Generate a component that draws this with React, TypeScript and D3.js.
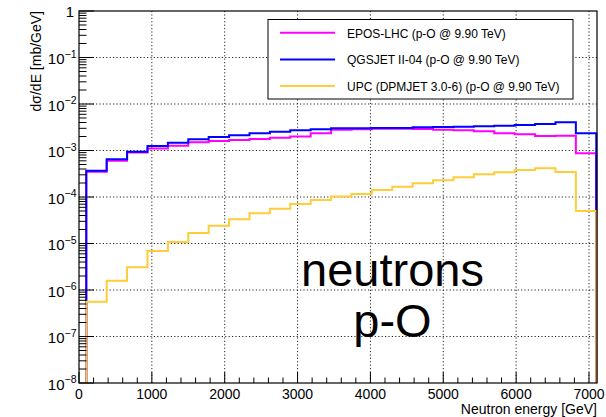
import React from "react";
import * as d3 from "d3";

// Bin layout (GeV)
const binStart = 100;
const binWidth = 280;
const nBins = 25;

// dσ/dE [mb/GeV] per bin
const eposLHC = [
  3.5e-4, 6.0e-4, 9.1e-4, 1.11e-3, 1.27e-3, 1.5e-3, 1.6e-3, 1.68e-3, 1.77e-3,
  1.89e-3, 1.99e-3, 2.34e-3, 2.8e-3, 2.85e-3, 2.94e-3, 2.94e-3, 2.9e-3, 2.8e-3,
  2.72e-3, 2.58e-3, 2.34e-3, 2.23e-3, 2.05e-3, 2.07e-3, 8.7e-4,
];
const qgsjet = [
  3.68e-4, 6.46e-4, 9.4e-4, 1.25e-3, 1.47e-3, 1.74e-3, 1.95e-3, 2.12e-3,
  2.34e-3, 2.54e-3, 2.72e-3, 2.85e-3, 3.0e-3, 3.0e-3, 3.04e-3, 3.04e-3,
  3.15e-3, 3.2e-3, 3.26e-3, 3.31e-3, 3.42e-3, 3.53e-3, 3.72e-3, 4.04e-3,
  2.34e-3,
];
const upc = [
  5.6e-7, 1.58e-6, 3.1e-6, 6.9e-6, 1.08e-5, 1.68e-5, 2.41e-5, 3.31e-5, 4.46e-5,
  5.6e-5, 7.08e-5, 8.6e-5, 1.02e-4, 1.16e-4, 1.42e-4, 1.67e-4, 1.97e-4,
  2.28e-4, 2.65e-4, 3.07e-4, 3.39e-4, 3.81e-4, 4.13e-4, 3.45e-4, 5.0e-5,
];

const seriesNames = [
  "EPOS-LHC (p-O @ 9.90 TeV)",
  "QGSJET II-04 (p-O @ 9.90 TeV)",
  "UPC (DPMJET 3.0-6) (p-O @ 9.90 TeV)",
];
const seriesColors = ["#ff00ff", "#0000ff", "#ffcc3a"];
const seriesData = [eposLHC, qgsjet, upc];

const xTicks = [0, 1000, 2000, 3000, 4000, 5000, 6000, 7000];
const yDecades = [0, -1, -2, -3, -4, -5, -6, -7, -8];

const W = 606;
const H = 417;
const M = { left: 79, right: 597, top: 11, bottom: 383 };
const FONT = "'Liberation Sans', Arial, Helvetica, sans-serif";

export default function App() {
  const x = d3.scaleLinear().domain([0, 7110]).range([M.left, M.right]);
  const y = d3.scaleLog().domain([1e-8, 1]).range([M.bottom, M.top]);

  const edges = d3.range(nBins + 1).map((i) => binStart + i * binWidth);

  const histPath = (vals: number[]) => {
    const pts: [number, number][] = [];
    pts.push([edges[0], 1e-8]);
    vals.forEach((v, i) => {
      pts.push([edges[i], v]);
      pts.push([edges[i + 1], v]);
    });
    pts.push([edges[nBins], 1e-8]);
    return d3
      .line<[number, number]>()
      .x((d) => x(d[0]))
      .y((d) => y(d[1]))(pts) as string;
  };

  const xMinor = d3.range(0, 7101, 200).filter((v) => v % 1000 !== 0);
  const yMinor: number[] = [];
  for (let k = -8; k < 0; k++) {
    for (let m = 2; m <= 9; m++) yMinor.push(m * Math.pow(10, k));
  }

  const legend = { x0: 268, y0: 19.5, x1: 573, y1: 99 };
  const legendRow = (i: number) => 32.7 + i * 26.7;

  return (
    <svg
      width={W}
      height={H}
      style={{ position: "absolute", left: 0, top: 0, display: "block" }}
      fontFamily={FONT}
    >
      <rect x={0} y={0} width={W} height={H} fill="#fff" />
      {/* grid */}
      <g stroke="#000" strokeWidth={1} strokeDasharray="1.2 2.2" opacity={0.85}>
        {xTicks.slice(1).map((t) => (
          <line key={"gx" + t} x1={x(t)} x2={x(t)} y1={M.top} y2={M.bottom} />
        ))}
        {yDecades.slice(1, -1).map((k) => (
          <line
            key={"gy" + k}
            x1={M.left}
            x2={M.right}
            y1={y(Math.pow(10, k))}
            y2={y(Math.pow(10, k))}
          />
        ))}
      </g>

      {/* histograms */}
      {seriesData.map((vals, i) => (
        <path
          key={"h" + i}
          d={histPath(vals)}
          fill="none"
          stroke={seriesColors[i]}
          strokeWidth={2}
          strokeLinejoin="miter"
        />
      ))}

      {/* frame */}
      <rect
        x={M.left}
        y={M.top}
        width={M.right - M.left}
        height={M.bottom - M.top}
        fill="none"
        stroke="#000"
        strokeWidth={1.2}
      />

      {/* ticks */}
      <g stroke="#000" strokeWidth={1}>
        {xTicks.map((t) => (
          <line key={"xt" + t} x1={x(t)} x2={x(t)} y1={M.bottom} y2={M.bottom - 11} />
        ))}
        {xMinor.map((t) => (
          <line key={"xm" + t} x1={x(t)} x2={x(t)} y1={M.bottom} y2={M.bottom - 5.5} />
        ))}
        {yDecades.map((k) => (
          <line
            key={"yt" + k}
            x1={M.left}
            x2={M.left + 15}
            y1={y(Math.pow(10, k))}
            y2={y(Math.pow(10, k))}
          />
        ))}
        {yMinor.map((v, i) => (
          <line key={"ym" + i} x1={M.left} x2={M.left + 7.5} y1={y(v)} y2={y(v)} />
        ))}
      </g>

      {/* x tick labels */}
      <g fontSize={14} textAnchor="middle" fill="#000">
        {xTicks.map((t) => (
          <text key={"xl" + t} x={x(t)} y={398.5}>
            {t}
          </text>
        ))}
      </g>
      {/* y tick labels */}
      <g fill="#000" textAnchor="end">
        {yDecades.map((k) =>
          k === 0 ? (
            <text key={"yl" + k} x={74} y={y(1) + 6} fontSize={15}>
              1
            </text>
          ) : (
            <text key={"yl" + k} x={76.5} y={y(Math.pow(10, k)) + 6.5} fontSize={15}>
              10
              <tspan fontSize={10.5} dy={-6.5}>
                {"\u2212" + Math.abs(k)}
              </tspan>
            </text>
          )
        )}
      </g>

      {/* axis titles */}
      <text x={597} y={414} fontSize={14} textAnchor="end" fill="#000">
        Neutron energy [GeV]
      </text>
      <text
        transform={`translate(41,11) rotate(-90)`}
        fontSize={14}
        textAnchor="end"
        fill="#000"
      >
        dσ/dE [mb/GeV]
      </text>

      {/* legend */}
      <rect
        x={legend.x0}
        y={legend.y0}
        width={legend.x1 - legend.x0}
        height={legend.y1 - legend.y0}
        fill="#fff"
        stroke="#000"
        strokeWidth={1}
      />
      {seriesNames.map((n, i) => (
        <g key={"lg" + i}>
          <line
            x1={280}
            x2={335}
            y1={legendRow(i)}
            y2={legendRow(i)}
            stroke={seriesColors[i]}
            strokeWidth={2}
          />
          <text x={347} y={legendRow(i) + 5} fontSize={12} fill="#000">
            {n}
          </text>
        </g>
      ))}

      {/* annotation */}
      <text x={392.5} y={286} fontSize={47} textAnchor="middle" fill="#000">
        neutrons
      </text>
      <text x={392.5} y={337} fontSize={47} textAnchor="middle" fill="#000">
        p-O
      </text>
    </svg>
  );
}
